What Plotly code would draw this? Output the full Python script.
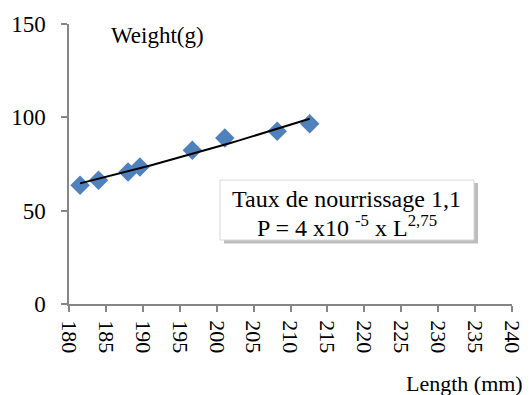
import numpy as np
import plotly.graph_objects as go

# Data
length_mm = [181.5, 184.0, 188.0, 189.6, 196.7, 201.1, 208.2, 212.6]
weight_g = [63.6, 66.3, 70.7, 73.4, 82.3, 88.9, 92.6, 96.6]
x_ticks = list(range(180, 245, 5))
y_ticks = [0, 50, 100, 150]

# Power trendline fitted to the data (as a spreadsheet trendline would be)
b, log_a = np.polyfit(np.log(length_mm), np.log(weight_g), 1)
trend_x = np.linspace(min(length_mm), max(length_mm), 30)
trend_y = np.exp(log_a) * trend_x ** b

FONT = "Liberation Serif"
AXIS = "#868686"

fig = go.Figure()
fig.add_trace(go.Scatter(
    x=length_mm, y=weight_g, mode="markers",
    marker=dict(symbol="diamond", size=15, color="#4F81BD", line=dict(width=0)),
    showlegend=False, cliponaxis=False))
fig.add_trace(go.Scatter(
    x=trend_x, y=trend_y, mode="lines",
    line=dict(color="black", width=2), showlegend=False))

# Text box with drop shadow
fig.add_shape(type="rect", xref="x", yref="y", x0=201.0, x1=235.4, y0=32.4, y1=64.8,
              fillcolor="#BDBDBD", line=dict(width=0), layer="above")
fig.add_shape(type="rect", xref="x", yref="y", x0=200.45, x1=234.85, y0=34.3, y1=66.4,
              fillcolor="white", line=dict(color="#D9D9D9", width=1), layer="above")
fig.add_annotation(xref="x", yref="y", x=217.6, y=56.4,
                   text="Taux de nourrissage 1,1",
                   showarrow=False, font=dict(family=FONT, size=24, color="black"))
fig.add_annotation(xref="x", yref="y", x=217.6, y=41.8,
                   text="P = 4 x10 <sup>-5</sup> x L<sup>2,75</sup>",
                   showarrow=False, font=dict(family=FONT, size=24, color="black"))

fig.add_annotation(xref="paper", yref="paper", x=0.2, y=1.0, xanchor="center", yanchor="middle",
                   yshift=-11, text="Weight(g)", showarrow=False,
                   font=dict(family=FONT, size=23, color="black"))
fig.add_annotation(xref="paper", yref="paper", x=1.0, y=0, xanchor="right", yanchor="middle",
                   xshift=13, yshift=-79, text="Length (mm)", showarrow=False,
                   font=dict(family=FONT, size=22, color="black"))

fig.update_layout(
    width=532, height=395,
    margin=dict(l=69, r=20, t=24, b=91, autoexpand=False),
    paper_bgcolor="white", plot_bgcolor="white",
    font=dict(family=FONT, size=22, color="black"),
    xaxis=dict(range=[180, 240], tickvals=x_ticks, ticktext=[str(v) for v in x_ticks],
               tickangle=90, ticks="outside", ticklen=6, tickcolor=AXIS, tickwidth=1.5,
               showline=True, linecolor=AXIS, linewidth=1.5, showgrid=False, zeroline=False,
               automargin=False,
               tickfont=dict(family=FONT, size=22, color="black"), ticklabelstandoff=4),
    yaxis=dict(range=[0, 150], tickvals=y_ticks, ticks="outside", ticklen=6,
               tickcolor=AXIS, tickwidth=1.5, showline=True, linecolor=AXIS, linewidth=1.5,
               showgrid=False, zeroline=False, automargin=False,
               tickfont=dict(family=FONT, size=23, color="black"), ticklabelstandoff=11),
)

# Remove the default page margin so the figure sits at the window's top-left corner
fig.write_html("out.html", config={"displayModeBar": False},
               post_script="document.body.style.margin='0';")
